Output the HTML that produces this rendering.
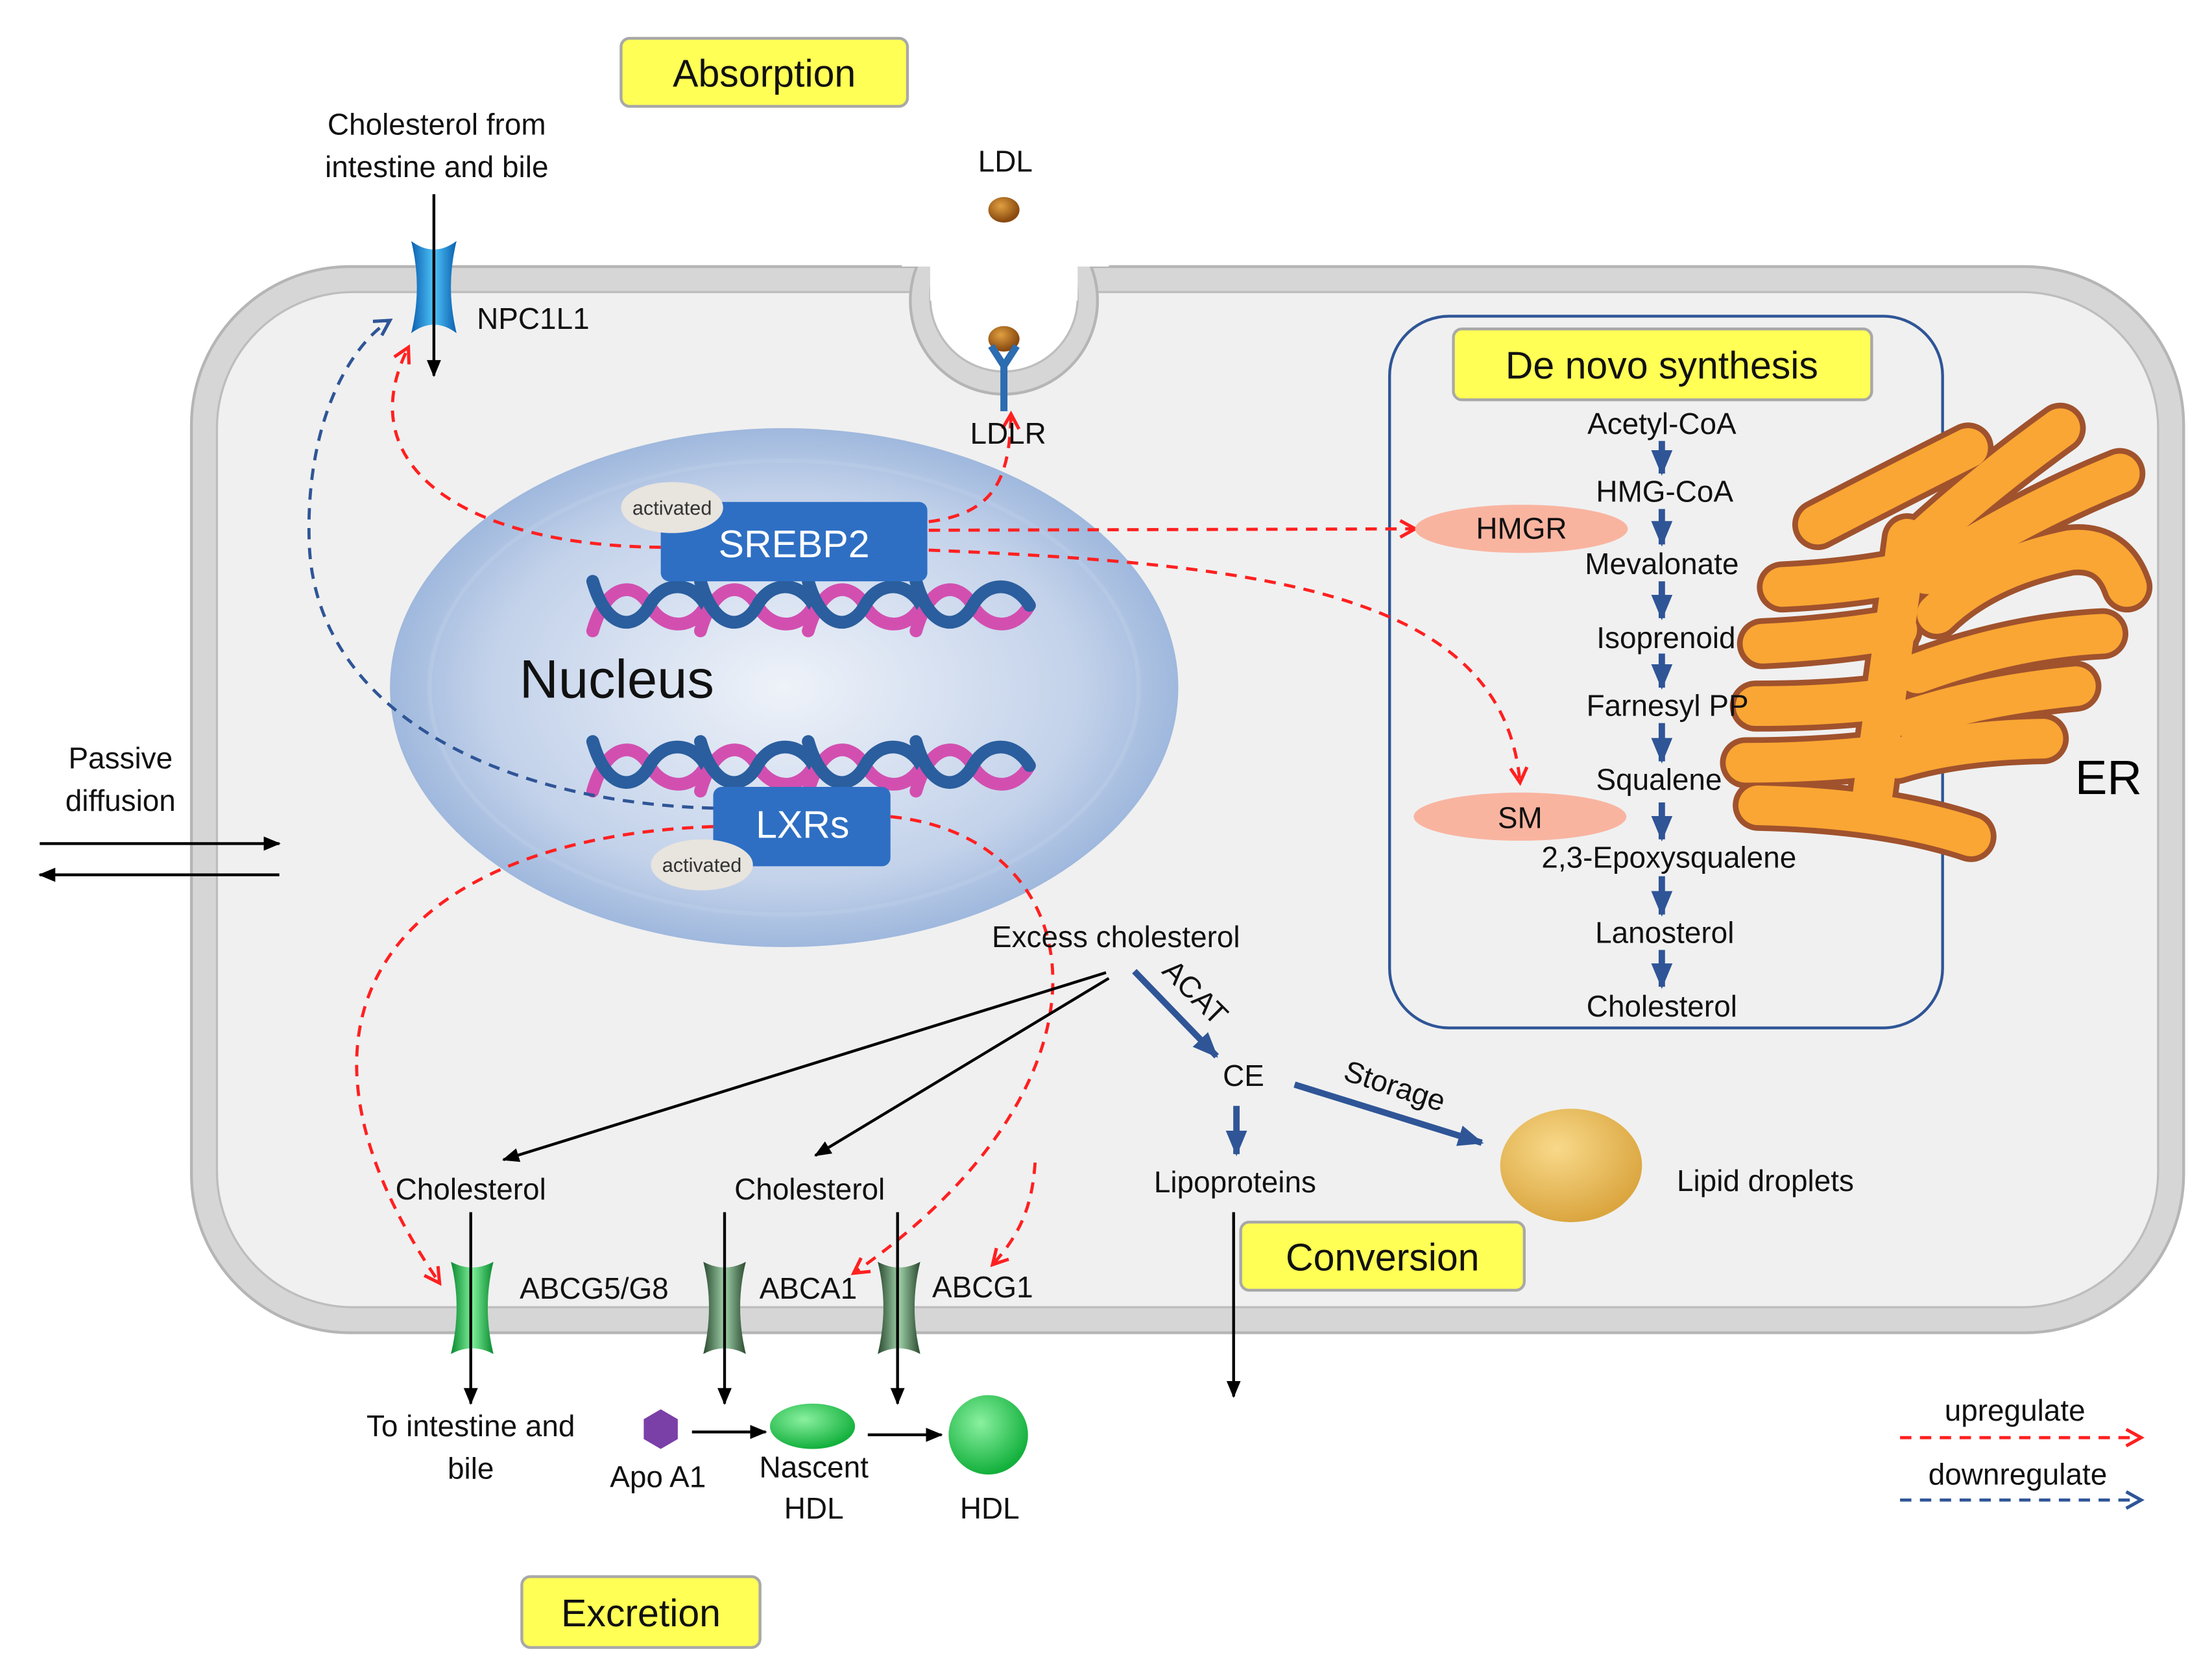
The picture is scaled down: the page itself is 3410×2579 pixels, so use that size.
<!DOCTYPE html>
<html><head><meta charset="utf-8"><style>
html,body{margin:0;padding:0;background:#fff;}
svg{display:block;}
text{font-family:"Liberation Sans",sans-serif;}
</style></head><body>
<svg width="3410" height="2579" viewBox="0 0 1560 1180" preserveAspectRatio="none" xmlns="http://www.w3.org/2000/svg">
<defs>
<radialGradient id="nuc" cx="0.5" cy="0.5" r="0.5">
<stop offset="0" stop-color="#eef2f9"/><stop offset="0.75" stop-color="#c3d2ea"/><stop offset="1" stop-color="#9fb8dd"/>
</radialGradient>
<radialGradient id="ldl" cx="0.4" cy="0.35" r="0.6"><stop offset="0" stop-color="#e0a040"/><stop offset="1" stop-color="#8a4a10"/></radialGradient>
<radialGradient id="drop" cx="0.4" cy="0.35" r="0.65"><stop offset="0" stop-color="#f8d98a"/><stop offset="1" stop-color="#dba640"/></radialGradient>
<radialGradient id="hdl" cx="0.4" cy="0.35" r="0.65"><stop offset="0" stop-color="#8af0a0"/><stop offset="1" stop-color="#12b03c"/></radialGradient>
<linearGradient id="chan" x1="0" x2="1"><stop offset="0" stop-color="#0a5fb0"/><stop offset="0.5" stop-color="#4fc3f7"/><stop offset="1" stop-color="#0a5fb0"/></linearGradient>
<linearGradient id="gch" x1="0" x2="1"><stop offset="0" stop-color="#0a8a30"/><stop offset="0.5" stop-color="#7ef09a"/><stop offset="1" stop-color="#0a8a30"/></linearGradient>
<linearGradient id="dch" x1="0" x2="1"><stop offset="0" stop-color="#2a4a30"/><stop offset="0.5" stop-color="#9fd0a8"/><stop offset="1" stop-color="#2a4a30"/></linearGradient>
<marker id="ar" viewBox="0 0 12 12" refX="10" refY="6" markerWidth="14" markerHeight="14" orient="auto" markerUnits="userSpaceOnUse"><path d="M1,1 L10,6 L1,11" fill="none" stroke="#ff2020" stroke-width="2"/></marker>
<marker id="ab" viewBox="0 0 12 12" refX="10" refY="6" markerWidth="14" markerHeight="14" orient="auto" markerUnits="userSpaceOnUse"><path d="M1,1 L10,6 L1,11" fill="none" stroke="#2f5597" stroke-width="2"/></marker>
<marker id="ak" viewBox="0 0 12 12" refX="11" refY="6" markerWidth="12" markerHeight="12" orient="auto" markerUnits="userSpaceOnUse"><path d="M0,1 L12,6 L0,11 z" fill="#000"/></marker>
<marker id="abs" viewBox="0 0 12 12" refX="11" refY="6" markerWidth="4" markerHeight="4" orient="auto"><path d="M0,1 L12,6 L0,11 z" fill="#2f5597"/></marker>
</defs>

<!-- Cell -->
<rect x="135" y="188" width="1405" height="752" rx="112" fill="#d6d6d6" stroke="#b5b5b5" stroke-width="2"/>
<rect x="153" y="206" width="1369" height="716" rx="96" fill="#f0f0f0" stroke="#bdbdbd" stroke-width="1.5"/>
<!-- pit -->
<circle cx="708" cy="212" r="66" fill="#d6d6d6" stroke="#b5b5b5" stroke-width="2"/>
<circle cx="708" cy="210" r="52" fill="#fff" stroke="#bdbdbd" stroke-width="1.5"/>
<rect x="636" y="130" width="146" height="58" fill="#fff"/>
<rect x="656" y="186" width="104" height="26" fill="#fff"/>
<ellipse cx="708" cy="148" rx="11" ry="9" fill="url(#ldl)"/>
<ellipse cx="708" cy="239" rx="11" ry="9" fill="url(#ldl)"/>
<path d="M699,244 L708,258 L717,244 M708,258 L708,290" stroke="#2c6cb0" stroke-width="5" fill="none"/>

<!-- De novo box -->
<rect x="980" y="223" width="390" height="502" rx="42" fill="none" stroke="#2f5597" stroke-width="2"/>

<!-- ER -->
<g fill="none" stroke-linecap="round" stroke-linejoin="round">
<g stroke="#a0522d" stroke-width="36">
<path d="M1282,370 Q1340,340 1388,316"/><path d="M1453,302 Q1400,340 1352,384"/><path d="M1495,334 Q1430,360 1359,405"/>
<path d="M1257,414 Q1300,412 1338,405"/><path d="M1500,414 Q1490,385 1460,388 Q1400,400 1366,433"/>
<path d="M1243,454 Q1290,452 1338,444"/><path d="M1483,447 Q1420,450 1352,475"/><path d="M1238,498 Q1290,498 1329,493"/>
<path d="M1464,484 Q1400,490 1348,507"/><path d="M1231,538 Q1280,538 1324,533"/><path d="M1441,521 Q1380,522 1338,535"/>
<path d="M1240,568 Q1330,570 1390,590"/><path d="M1345,380 L1320,565"/>
</g>
<g stroke="#f9a634" stroke-width="28">
<path d="M1282,370 Q1340,340 1388,316"/><path d="M1453,302 Q1400,340 1352,384"/><path d="M1495,334 Q1430,360 1359,405"/>
<path d="M1257,414 Q1300,412 1338,405"/><path d="M1500,414 Q1490,385 1460,388 Q1400,400 1366,433"/>
<path d="M1243,454 Q1290,452 1338,444"/><path d="M1483,447 Q1420,450 1352,475"/><path d="M1238,498 Q1290,498 1329,493"/>
<path d="M1464,484 Q1400,490 1348,507"/><path d="M1231,538 Q1280,538 1324,533"/><path d="M1441,521 Q1380,522 1338,535"/>
<path d="M1240,568 Q1330,570 1390,590"/><path d="M1345,380 L1320,565"/>
</g>
</g>
<text x="1487" y="560" font-size="34" text-anchor="middle">ER</text>

<!-- Nucleus -->
<ellipse cx="553" cy="485" rx="278" ry="183" fill="url(#nuc)"/>
<ellipse cx="553" cy="485" rx="250" ry="160" fill="none" stroke="#b9cbe6" stroke-width="3" opacity="0.6"/>
<text x="435" y="492" font-size="38" text-anchor="middle" fill="#111">Nucleus</text>

<!-- DNA helices -->
<g fill="none" stroke-width="9" stroke-linecap="round">
<g id="dna1">
<path d="M418,445 C428,410 448,410 458,427 S488,445 498,427" stroke="#d24fb0"/>
<path d="M418,410 C428,445 448,445 458,427 S488,410 498,427" stroke="#2a5e9e"/>
</g>
<use href="#dna1" x="76"/><use href="#dna1" x="152"/><use href="#dna1" x="228"/>
<g id="dna2" transform="translate(0,113)">
<path d="M418,445 C428,410 448,410 458,427 S488,445 498,427" stroke="#d24fb0"/>
<path d="M418,410 C428,445 448,445 458,427 S488,410 498,427" stroke="#2a5e9e"/>
</g>
<use href="#dna2" x="76"/><use href="#dna2" x="152"/><use href="#dna2" x="228"/>
</g>
<rect x="466" y="354" width="188" height="56" rx="6" fill="#2e6fc4"/>
<text x="560" y="393" font-size="27" text-anchor="middle" fill="#fff">SREBP2</text>
<ellipse cx="474" cy="358" rx="36" ry="18" fill="#e8e4de"/>
<text x="474" y="363" font-size="14" text-anchor="middle" fill="#333">activated</text>
<rect x="503" y="555" width="125" height="56" rx="6" fill="#2e6fc4"/>
<text x="566" y="591" font-size="27" text-anchor="middle" fill="#fff">LXRs</text>
<ellipse cx="495" cy="610" rx="36" ry="18" fill="#e8e4de"/>
<text x="495" y="615" font-size="14" text-anchor="middle" fill="#333">activated</text>

<!-- NPC1L1 -->
<path d="M290,170 Q306,182 322,170 Q314,202 322,235 Q306,223 290,235 Q298,202 290,170 z" fill="url(#chan)"/>
<line x1="306" y1="137" x2="306" y2="265" stroke="#000" stroke-width="2" marker-end="url(#ak)"/>

<!-- transporters -->
<path d="M318,890 Q333,898 348,890 Q340,922 348,955 Q333,947 318,955 Q326,922 318,890 z" fill="url(#gch)"/>
<path d="M496,890 Q511,898 526,890 Q518,922 526,955 Q511,947 496,955 Q504,922 496,890 z" fill="url(#dch)"/>
<path d="M619,890 Q634,898 649,890 Q641,922 649,955 Q634,947 619,955 Q627,922 619,890 z" fill="url(#dch)"/>

<!-- red dashed regulators -->
<g fill="none" stroke="#ff2020" stroke-width="2.2" stroke-dasharray="8 6" marker-end="url(#ar)">
<path d="M466,386 C330,385 245,330 288,245"/>
<path d="M655,368 C700,362 712,340 713,292"/>
<path d="M655,374 L998,373"/>
<path d="M655,388 C900,398 1060,420 1072,552"/>
<path d="M503,583 C300,590 170,700 310,905"/>
<path d="M628,576 C770,590 800,760 602,898"/>
<path d="M730,820 C728,850 720,870 700,892"/>
</g>
<path d="M503,570 C350,566 220,500 218,380 C216,300 245,245 275,226" fill="none" stroke="#2f5597" stroke-width="2.2" stroke-dasharray="8 6" marker-end="url(#ab)"/>

<!-- black arrows -->
<g stroke="#000" stroke-width="2" marker-end="url(#ak)">
<line x1="28" y1="595" x2="197" y2="595"/>
<line x1="197" y1="617" x2="28" y2="617"/>
<line x1="780" y1="686" x2="355" y2="818"/>
<line x1="782" y1="690" x2="575" y2="815"/>
<line x1="870" y1="855" x2="870" y2="985"/>
<line x1="332" y1="855" x2="332" y2="990"/>
<line x1="511" y1="855" x2="511" y2="990"/>
<line x1="633" y1="855" x2="633" y2="990"/>
<line x1="488" y1="1010" x2="540" y2="1010"/>
<line x1="612" y1="1012" x2="664" y2="1012"/>
</g>
<!-- blue solid arrows -->
<g stroke="#2f5597" stroke-width="4.5" marker-end="url(#abs)">
<line x1="800" y1="685" x2="858" y2="745"/>
<line x1="872" y1="780" x2="872" y2="814"/>
<line x1="913" y1="765" x2="1045" y2="806"/>
<line x1="1172" y1="311" x2="1172" y2="334"/>
<line x1="1172" y1="359" x2="1172" y2="384"/>
<line x1="1172" y1="410" x2="1172" y2="436"/>
<line x1="1172" y1="461" x2="1172" y2="485"/>
<line x1="1172" y1="510" x2="1172" y2="537"/>
<line x1="1172" y1="566" x2="1172" y2="592"/>
<line x1="1172" y1="618" x2="1172" y2="645"/>
<line x1="1172" y1="670" x2="1172" y2="696"/>
</g>

<ellipse cx="1073" cy="373" rx="75" ry="17" fill="#f9b4a0"/>
<ellipse cx="1072" cy="576" rx="75" ry="17" fill="#f9b4a0"/>

<!-- HDL etc -->
<polygon points="466,994 478,1001 478,1015 466,1022 454,1015 454,1001" fill="#7b3fa8"/>
<ellipse cx="573" cy="1006" rx="30" ry="16" fill="url(#hdl)"/>
<circle cx="697" cy="1012" r="28" fill="url(#hdl)"/>
<ellipse cx="1108" cy="822" rx="50" ry="40" fill="url(#drop)"/>

<!-- yellow labels -->
<g fill="#ffff55" stroke="#a8a8a8" stroke-width="2">
<rect x="438" y="27" width="202" height="48" rx="6"/>
<rect x="1025" y="232" width="295" height="50" rx="6"/>
<rect x="875" y="862" width="200" height="48" rx="6"/>
<rect x="368" y="1112" width="168" height="50" rx="6"/>
</g>
<g font-size="27" text-anchor="middle" fill="#111">
<text x="539" y="61">Absorption</text>
<text x="1172" y="267">De novo synthesis</text>
<text x="975" y="896">Conversion</text>
<text x="452" y="1147">Excretion</text>
</g>

<!-- labels -->
<g font-size="21" fill="#111" text-anchor="middle">
<text x="308" y="95">Cholesterol from</text>
<text x="308" y="125">intestine and bile</text>
<text x="709" y="121">LDL</text>
<text x="711" y="313">LDLR</text>
<text x="376" y="232">NPC1L1</text>
<text x="85" y="542">Passive</text>
<text x="85" y="572">diffusion</text>
<text x="1172" y="306">Acetyl-CoA</text>
<text x="1174" y="354">HMG-CoA</text>
<text x="1073" y="380">HMGR</text>
<text x="1172" y="405">Mevalonate</text>
<text x="1175" y="457">Isoprenoid</text>
<text x="1176" y="505">Farnesyl PP</text>
<text x="1170" y="557">Squalene</text>
<text x="1072" y="584">SM</text>
<text x="1177" y="612">2,3-Epoxysqualene</text>
<text x="1174" y="665">Lanosterol</text>
<text x="1172" y="717">Cholesterol</text>
<text x="787" y="668">Excess cholesterol</text>
<text x="877" y="766">CE</text>
<text x="871" y="841">Lipoproteins</text>
<text x="1245" y="840">Lipid droplets</text>
<text x="332" y="846">Cholesterol</text>
<text x="571" y="846">Cholesterol</text>
<text x="419" y="916">ABCG5/G8</text>
<text x="570" y="916">ABCA1</text>
<text x="693" y="915">ABCG1</text>
<text x="332" y="1013">To intestine and</text>
<text x="332" y="1043">bile</text>
<text x="464" y="1049">Apo A1</text>
<text x="574" y="1042">Nascent</text>
<text x="574" y="1071">HDL</text>
<text x="698" y="1071">HDL</text>
<text x="1421" y="1002">upregulate</text>
<text x="1423" y="1047">downregulate</text>
<text x="840" y="710" transform="rotate(45 845 705)">ACAT</text>
<text x="983" y="773" transform="rotate(18 983 768)">Storage</text>
</g>

<!-- legend -->
<line x1="1340" y1="1014" x2="1510" y2="1014" stroke="#ff2020" stroke-width="2.2" stroke-dasharray="8 6" marker-end="url(#ar)"/>
<line x1="1340" y1="1058" x2="1510" y2="1058" stroke="#2f5597" stroke-width="2.2" stroke-dasharray="8 6" marker-end="url(#ab)"/>
</svg>
</body></html>
